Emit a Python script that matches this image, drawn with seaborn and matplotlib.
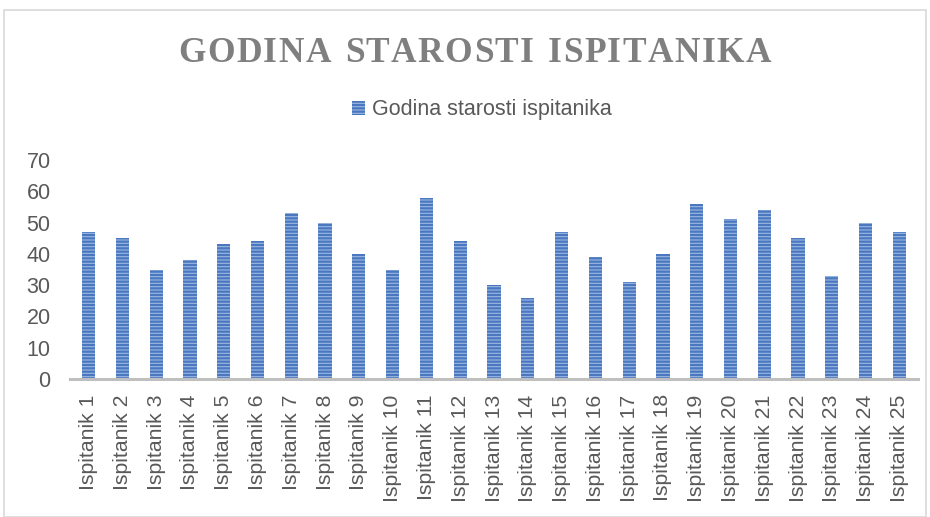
import pandas as pd
import matplotlib.pyplot as plt
import seaborn as sns
from matplotlib.patches import Rectangle

# Data
ispitanici = [f'Ispitanik {i}' for i in range(1, 26)]
godine = [47, 45, 35, 38, 43, 44, 53, 50, 40, 35, 58, 44, 30, 26, 47,
          39, 31, 40, 56, 51, 54, 45, 33, 50, 47]
y_ticks = [0, 10, 20, 30, 40, 50, 60, 70]
serija = 'Godina starosti ispitanika'
naslov = 'GODINA STAROSTI ISPITANIKA'

df = pd.DataFrame({'Ispitanik': ispitanici, 'Godine': godine})

sns.set_style('white')
plt.rcParams['font.family'] = ['Liberation Sans', 'DejaVu Sans']
plt.rcParams['hatch.linewidth'] = 1.6

fig = plt.figure(figsize=(9.3, 5.17), dpi=100)
ax = fig.add_axes([70 / 930, 1 - 379 / 517, 848 / 930, 219 / 517])

sns.barplot(data=df, x='Ispitanik', y='Godine', ax=ax, width=0.39,
            color='#9DB7E0', saturation=1, edgecolor='#4A78C0',
            linewidth=0, hatch='-----', label=serija)

ax.set_ylim(0, 70)
ax.set_yticks(y_ticks)
ax.set_xlim(-0.55, 24.55)
ax.set_xlabel('')
ax.set_ylabel('')
ax.tick_params(axis='x', rotation=90, labelsize=15.3, labelcolor='#595959',
               length=0, pad=11)
ax.tick_params(axis='y', labelsize=15.5, labelcolor='#595959', length=0, pad=14)
for side in ['top', 'right', 'left']:
    ax.spines[side].set_visible(False)
ax.spines['bottom'].set_color('#BFBFBF')
ax.spines['bottom'].set_linewidth(2.2)

# title with letter spacing, placed char by char
renderer = fig.canvas.get_renderer()
title_kw = dict(fontsize=25.5, fontweight='bold', color='#7F7F7F',
                family=['Liberation Serif', 'DejaVu Serif'])
x0, x1, y_t = 178, 771, 1 - 62 / 517
widths = []
for ch in naslov:
    t = fig.text(0, 0, ch if ch != ' ' else 'I', **title_kw)
    widths.append(t.get_window_extent(renderer).width * (0.8 if ch == ' ' else 1))
    t.remove()
gap = (x1 - x0 - sum(widths)) / (len(naslov) - 1)
x = x0
for ch, w in zip(naslov, widths):
    if ch != ' ':
        fig.text(x / 930, y_t, ch, ha='left', va='baseline', **title_kw)
    x += w + gap

# legend
leg = ax.legend(loc='center', bbox_to_anchor=(482 / 930, 1 - 110 / 517),
                bbox_transform=fig.transFigure, frameon=False, fontsize=15.5,
                handlelength=0.6, handleheight=0.6, handletextpad=0.3)
for t in leg.get_texts():
    t.set_color('#595959')

# outer chart border
fig.patches.append(Rectangle((4 / 930, 0), 922 / 930, 1 - 10 / 517,
                             transform=fig.transFigure, fill=False,
                             edgecolor='#D9D9D9', linewidth=1.2))

plt.savefig('out.png', dpi=100)
plt.close()
